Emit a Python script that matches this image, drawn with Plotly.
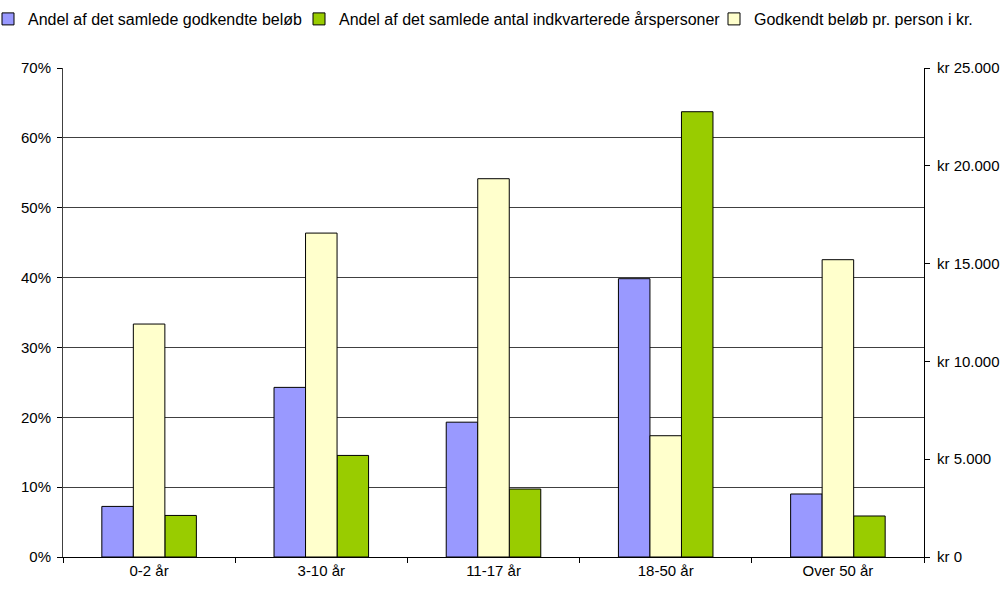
import plotly.graph_objects as go

# Age groups on the x axis
categories = ["0-2 år", "3-10 år", "11-17 år", "18-50 år", "Over 50 år"]

# Share of total approved amount (left axis, fraction)
share_amount = [0.0724, 0.2428, 0.1930, 0.3984, 0.0902]
# Share of total number of housed person-years (left axis, fraction)
share_persons = [0.0595, 0.1454, 0.0973, 0.6374, 0.0587]
# Approved amount per person in DKK (right axis)
amount_per_person = [11910, 16560, 19340, 6200, 15200]

series_names = [
    "Andel af det samlede godkendte beløb",
    "Andel af det samlede antal indkvarterede årspersoner",
    "Godkendt beløb pr. person i kr.",
]

BAR_W = 0.183
FONT = "Arial, Liberation Sans, sans-serif"
W, H = 1002, 590
ML, MR, MT, MB = 63, 78, 68, 33
PLOT_W = W - ML - MR
PLOT_H = H - MT - MB


def px_to_paper_x(px):
    return (px - ML) / PLOT_W


def px_to_paper_y(py):
    return (H - MB - py) / PLOT_H


fig = go.Figure()

fig.add_trace(go.Bar(
    x=categories, y=share_amount, name=series_names[0],
    marker=dict(color="#9999FF", line=dict(color="#000000", width=1)),
    width=BAR_W, offset=-1.5 * BAR_W, yaxis="y", legend="legend",
))
fig.add_trace(go.Bar(
    x=categories, y=share_persons, name=series_names[1],
    marker=dict(color="#99CC00", line=dict(color="#000000", width=1)),
    width=BAR_W, offset=0.5 * BAR_W, yaxis="y", legend="legend2",
))
fig.add_trace(go.Bar(
    x=categories, y=amount_per_person, name=series_names[2],
    marker=dict(color="#FFFFCC", line=dict(color="#000000", width=1)),
    width=BAR_W, offset=-0.5 * BAR_W, yaxis="y2", legend="legend3",
))

legend_font = dict(family=FONT, size=16, color="#000000")
legend_y = px_to_paper_y(19)


def legend_at(text_left_px):
    return dict(
        orientation="h", x=px_to_paper_x(text_left_px - 38), xanchor="left",
        y=legend_y, yanchor="middle", font=legend_font,
        bgcolor="rgba(0,0,0,0)",
    )


fig.update_layout(
    width=W, height=590,
    margin=dict(l=ML, r=MR, t=MT, b=MB, autoexpand=False),
    paper_bgcolor="white", plot_bgcolor="white",
    barmode="overlay",
    separators=",.",
    font=dict(family=FONT, size=15, color="#000000"),
    showlegend=True,
    legend=legend_at(26),
    legend2=legend_at(337),
    legend3=legend_at(752),
    xaxis=dict(
        type="category", range=[-0.5, 4.5],
        showline=True, linecolor="#000000", linewidth=1,
        ticks="outside", tickson="boundaries", ticklen=5, tickcolor="#000000",
        showgrid=False, tickfont=dict(size=15),
    ),
    yaxis=dict(
        range=[0, 0.70], dtick=0.1, tickformat=".0%",
        showline=True, linecolor="#404040", linewidth=1,
        ticks="outside", ticklen=5, tickcolor="#000000",
        showgrid=True, gridcolor="#404040", gridwidth=1,
        zeroline=False, tickfont=dict(size=15), ticklabelstandoff=3,
    ),
    yaxis2=dict(
        overlaying="y", side="right", range=[0, 25000], dtick=5000,
        tickformat=",.0f", tickprefix="kr ",
        showline=True, linecolor="#000000", linewidth=1,
        ticks="outside", ticklen=5, tickcolor="#000000",
        showgrid=False, zeroline=False, tickfont=dict(size=15),
        ticklabelstandoff=4,
    ),
)

fig.write_html("out.html")
